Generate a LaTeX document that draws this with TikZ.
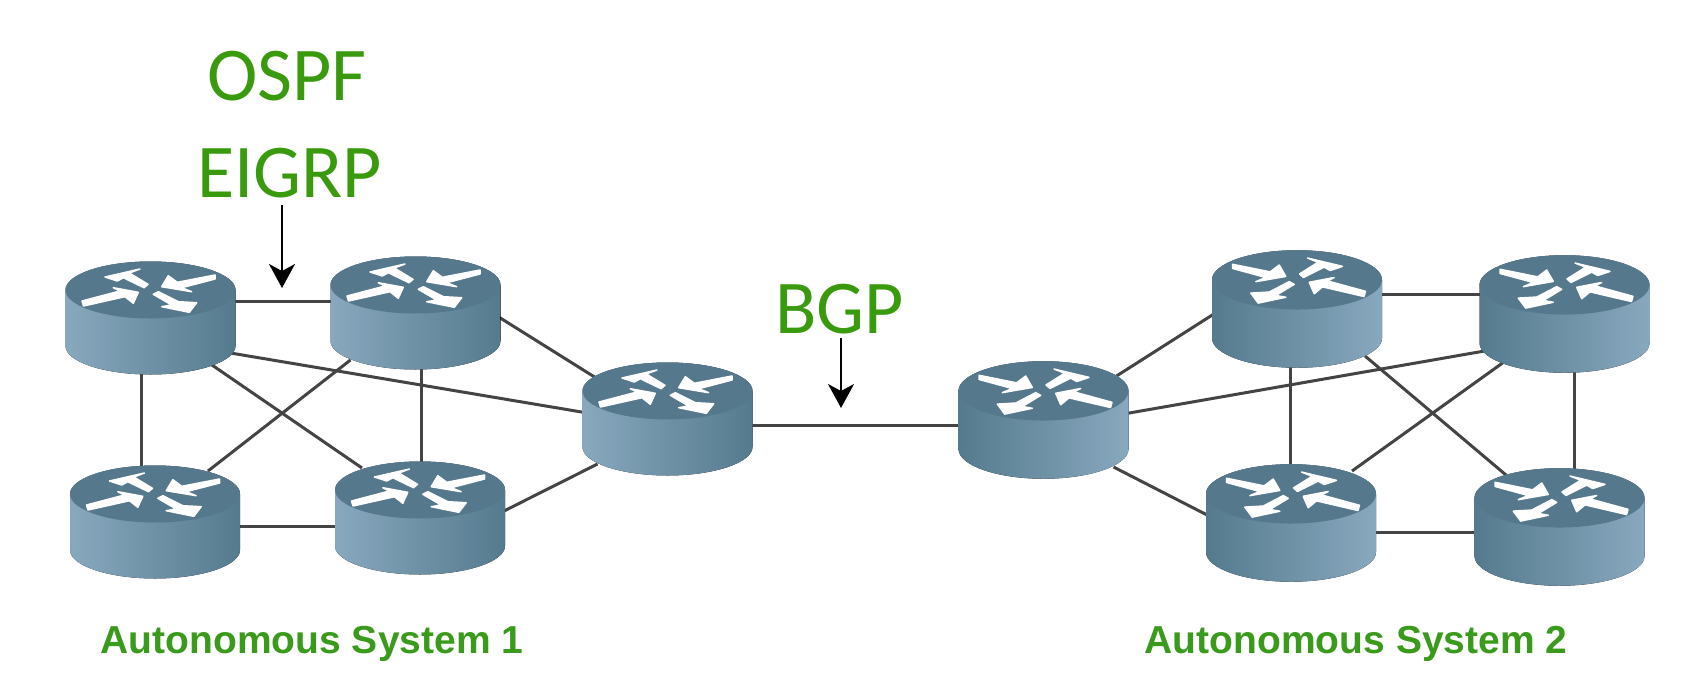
\documentclass[tikz,border=0pt]{standalone}
\usepackage{fontspec}
\setmainfont{Carlito}
\newfontfamily\labelfont{Liberation Sans}
\usetikzlibrary{arrows.meta,calc}
\definecolor{rtop}{HTML}{56788C}
\definecolor{rlight}{HTML}{88A8BE}
\definecolor{rdark}{HTML}{557A8E}
\definecolor{linkgray}{HTML}{444444}
\definecolor{protogreen}{HTML}{3A9A0E}
\definecolor{asgreen}{HTML}{3A9A1C}
\newcommand{\routerflows}{%
  \filldraw[flowmark] (-45.5,-41) -- (-10.5,-49) -- (-21.2,-45) -- (-2.5,-33.7) -- (-6.5,-30.3) -- (-27.2,-40.3) -- (-33.2,-37) -- cycle;
  \filldraw[flowmark] (11.2,-31.3) -- (17.8,-42.3) -- (26.8,-35.7) -- (64.5,-43) -- (64.5,-39) -- (31.2,-30.3) -- (41.2,-26.3) -- cycle;
  \filldraw[flowmark] (-12.2,-25.7) -- (-17.2,-14.7) -- (-25.5,-21.3) -- (-67,-12) -- (-68.5,-17) -- (-30.5,-27) -- (-37.2,-30.3) -- cycle;
  \filldraw[flowmark] (2.8,-23.7) -- (7.8,-26.3) -- (27.8,-16.3) -- (46.2,-15.3) -- (38.8,-5.7) -- (11.2,-11.3) -- (21.2,-13) -- cycle;
}
\newcommand{\routerbody}{%
  (-85,-28) -- (-85,28)
      .. controls (-85,43.5) and (-47,56.5) .. (0,56.5)
      .. controls (47,56.5) and (85,43.5) .. (85,28)
      -- (85,-28) .. controls (85,-43.5) and (47,-56.5) .. (0,-56.5)
      .. controls (-47,-56.5) and (-85,-43.5) .. (-85,-28) -- cycle
}
\tikzset{
  x=1pt,y=-1pt,
  flowmark/.style={fill=white,draw=white,line width=1.5pt,line join=round},
  routerbox/.style={minimum width=170pt,minimum height=113pt,inner sep=0pt,outer sep=0pt},
  link/.style={draw=linkgray,line width=3pt},
  pointer/.style={draw=black,line width=1.8pt,-{Stealth[width=26pt,length=24pt,inset=7pt]}},
  proto/.style={text=protogreen,font=\fontsize{76}{76}\selectfont,inner sep=0pt},
  aslabel/.style={text=asgreen,font=\labelfont\bfseries\fontsize{39}{39}\selectfont,inner sep=0pt},
  routerL/.pic={
    \fill[left color=rlight,right color=rdark] \routerbody;
    \fill[rtop] (0,-28) ellipse [x radius=85,y radius=28.5];
    \routerflows
  },
  routerR/.pic={
    \fill[left color=rdark,right color=rlight] \routerbody;
    \fill[rtop] (0,-28) ellipse [x radius=85,y radius=28.5];
    \begin{scope}[xscale=-1]\routerflows\end{scope}
  },
}
\begin{document}
\begin{tikzpicture}
\useasboundingbox (0,0) rectangle (1694,696);
% router positions
\node[routerbox] (r1) at (150.5,318) {};
\node[routerbox] (r2) at (415.5,313) {};
\node[routerbox] (r3) at (155,522) {};
\node[routerbox] (r4) at (420,518) {};
\node[routerbox] (r5) at (667.5,419) {};
\node[routerbox] (r6) at (1043.5,420) {};
\node[routerbox] (r7) at (1297,309) {};
\node[routerbox] (r8) at (1564.5,314) {};
\node[routerbox] (r9) at (1291,523) {};
\node[routerbox] (r10) at (1559.5,527) {};
% connectors
\draw[link] ($(r1)+(80,-17)$) -- ($(r2)+(-80,-12)$);
\draw[link] ($(r1)+(80,35)$) -- ($(r5)+(-80,-6)$);
\draw[link] ($(r1)+(60,46)$) -- ($(r4)+(-58,-50)$);
\draw[link] ($(r2)+(-65,47)$) -- ($(r3)+(53,-51)$);
\draw[link] ($(r2)+(80,2)$) -- ($(r5)+(-73,-42)$);
\draw[link] ($(r2)+(5.5,50)$) -- ($(r4)+(1,-50)$);
\draw[link] ($(r1)+(-9,50)$) -- ($(r3)+(-13.5,-50)$);
\draw[link] ($(r3)+(80,4)$) -- ($(r4)+(-80,8)$);
\draw[link] ($(r4)+(80,-5)$) -- ($(r5)+(-70,45)$);
\draw[link] ($(r5)+(80,6)$) -- ($(r6)+(-80,5)$);
\draw[link] ($(r6)+(73,-44)$) -- ($(r7)+(-80,3)$);
\draw[link] ($(r6)+(80,-6)$) -- ($(r8)+(-80,37)$);
\draw[link] ($(r6)+(70,47)$) -- ($(r9)+(-80,-6)$);
\draw[link] ($(r7)+(80,-15)$) -- ($(r8)+(-80,-20)$);
\draw[link] ($(r7)+(-7,50)$) -- ($(r9)+(-1,-50)$);
\draw[link] ($(r7)+(68,47)$) -- ($(r10)+(-53.5,-52)$);
\draw[link] ($(r8)+(-62,49)$) -- ($(r9)+(61,-52)$);
\draw[link] ($(r8)+(9.5,50)$) -- ($(r10)+(14.5,-50)$);
\draw[link] ($(r9)+(80,9)$) -- ($(r10)+(-80,5)$);
% router bodies
\pic at (r1) {routerL};
\pic at (r2) {routerL};
\pic at (r3) {routerL};
\pic at (r4) {routerL};
\pic at (r5) {routerL};
\pic[yscale=1.04] at (r6) {routerR};
\pic[yscale=1.04] at (r7) {routerR};
\pic[yscale=1.04] at (r8) {routerR};
\pic[yscale=1.04] at (r9) {routerR};
\pic[yscale=1.04] at (r10) {routerR};
% labels
\node[proto] (ospf) at (287,76.5) {OSPF};
\node[proto] (eigrp) at (289.5,173) {EIGRP};
\node[proto] (bgp) at (839.5,309) {BGP};
\node[aslabel] (as1) at (312,644) {Autonomous System 1};
\node[aslabel] (as2) at (1356,644) {Autonomous System 2};
% pointers
\coordinate (eigrptail) at (282,205);
\coordinate (eigrphead) at (282,288);
\coordinate (bgptail) at (841,338);
\coordinate (bgphead) at (841,408);
\draw[pointer] (eigrptail) -- (eigrphead);
\draw[pointer] (bgptail) -- (bgphead);
\end{tikzpicture}
\end{document}
